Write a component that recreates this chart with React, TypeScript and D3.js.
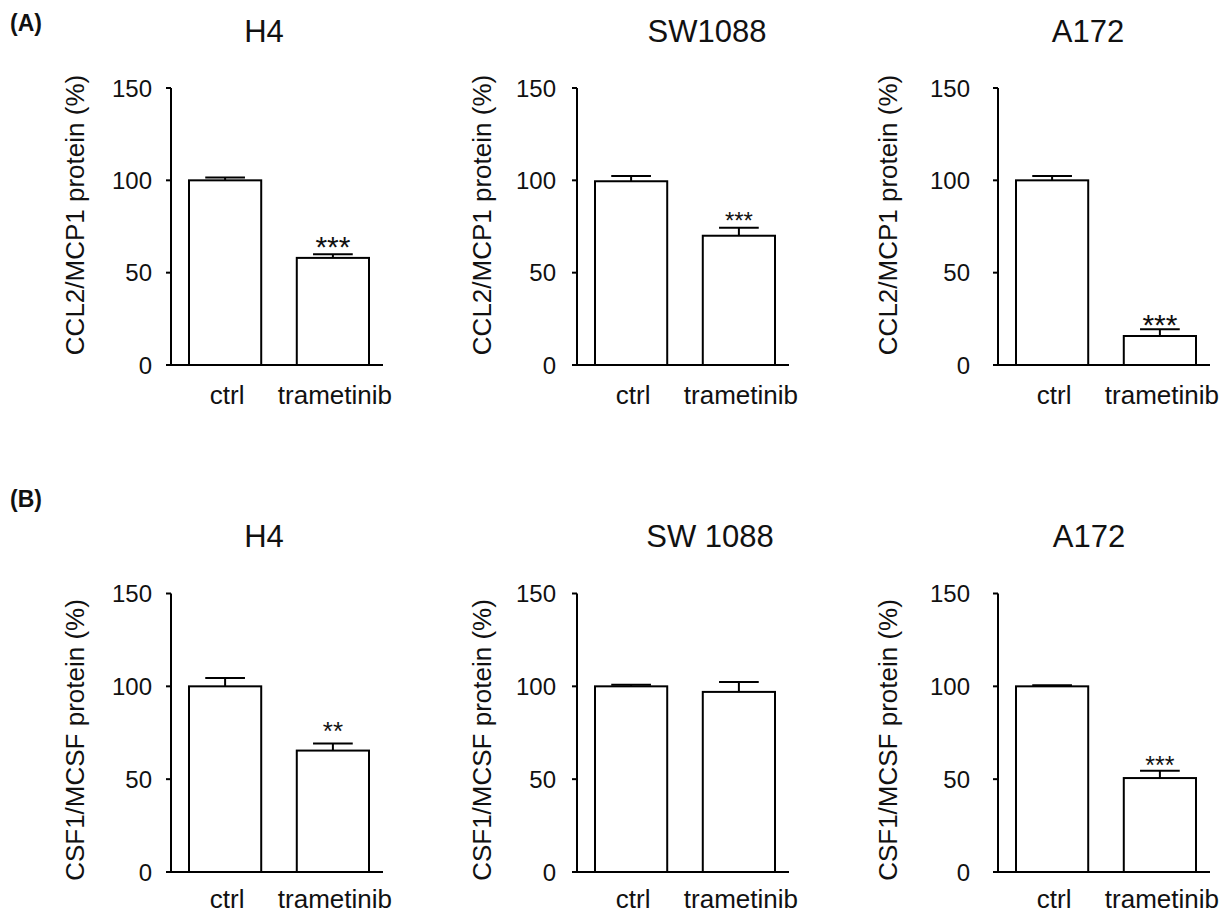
import React from "react";
import * as d3 from "d3";

// ---------- data ----------
const groups = ["ctrl", "trametinib"];
const yTicks = [0, 50, 100, 150];

const rowALabel = "(A)";
const rowBLabel = "(B)";
const rowAAxisTitle = "CCL2/MCP1 protein (%)";
const rowBAxisTitle = "CSF1/MCSF protein (%)";

const rowATitles = ["H4", "SW1088", "A172"];
const rowBTitles = ["H4", "SW 1088", "A172"];

// CCL2/MCP1 means and SEM (ctrl, trametinib)
const ccl2Means = [
  [100, 58],
  [99.5, 70],
  [100, 15.7],
];
const ccl2Errors = [
  [1.6, 2],
  [2.8, 4.3],
  [2.4, 3.6],
];
const ccl2Sig = [
  ["", "***"],
  ["", "***"],
  ["", "***"],
];

// CSF1/MCSF means and SEM (ctrl, trametinib)
const csf1Means = [
  [100, 65.4],
  [100, 97],
  [100, 50.6],
];
const csf1Errors = [
  [4.5, 3.8],
  [0.8, 5.3],
  [0.6, 4],
];
const csf1Sig = [
  ["", "**"],
  ["", ""],
  ["", "***"],
];

// ---------- layout ----------
const FONT = "'Liberation Sans', Arial, Helvetica, sans-serif";
const colAxisX = [171, 577, 998];
const colTickGap = [19, 21, 28];
const colYLabelX = [84, 491, 897];
const colTitleX = [[264, 707, 1088], [264, 710, 1089]];
const sigStyle = [
  [{ size: 30, gap: 3 }, { size: 24, gap: 1 }, { size: 30, gap: 6 }],
  [{ size: 26, gap: -4 }, { size: 24, gap: 2 }, { size: 25, gap: 3 }],
];

const rows = [
  {
    label: rowALabel, labelY: 31, titles: rowATitles, titleY: 42,
    axisTitle: rowAAxisTitle, axisTitleY: 215,
    y0: 365, y150: 88, catGap: 39, means: ccl2Means, errs: ccl2Errors, sig: ccl2Sig,
  },
  {
    label: rowBLabel, labelY: 507, titles: rowBTitles, titleY: 547,
    axisTitle: rowBAxisTitle, axisTitleY: 740,
    y0: 872, y150: 593.5, catGap: 36, means: csf1Means, errs: csf1Errors, sig: csf1Sig,
  },
];

function Panel({ row, ri, ci }: { row: any; ri: number; ci: number }) {
  const ax = colAxisX[ci];
  const y = d3.scaleLinear().domain([0, 150]).range([row.y0, row.y150]);
  const x = d3
    .scaleBand<string>()
    .domain(groups)
    .range([ax + 18, ax + 198])
    .paddingInner(0.33)
    .paddingOuter(0);
  const xEnd = ax + 212;
  const bw = x.bandwidth();
  const capW = bw * 0.55;
  const sw = 2;
  const ss = sigStyle[ri][ci];
  return (
    <g>
      <text
        x={colTitleX[ri][ci]}
        y={row.titleY}
        textAnchor="middle"
        fontSize={31}
        fontFamily={FONT}
        fill="#111"
      >
        {row.titles[ci]}
      </text>
      <text
        transform={`translate(${colYLabelX[ci]},${row.axisTitleY}) rotate(-90)`}
        textAnchor="middle"
        fontSize={26}
        fontFamily={FONT}
        fill="#111"
      >
        {row.axisTitle}
      </text>
      {/* y axis */}
      <line x1={ax} x2={ax} y1={y(0)} y2={y(150)} stroke="#000" strokeWidth={sw} />
      {yTicks.map((t) => (
        <g key={t}>
          <line x1={ax - 5} x2={ax} y1={y(t)} y2={y(t)} stroke="#000" strokeWidth={sw} />
          <text
            x={ax - colTickGap[ci]}
            y={y(t)}
            dy="0.36em"
            textAnchor="end"
            fontSize={24}
            fontFamily={FONT}
            fill="#111"
          >
            {t}
          </text>
        </g>
      ))}
      {/* bars */}
      {groups.map((g, gi) => {
        const v = row.means[ci][gi];
        const e = row.errs[ci][gi];
        const bx = x(g)!;
        const cx = bx + bw / 2;
        const s = row.sig[ci][gi];
        return (
          <g key={g}>
            <line x1={cx} x2={cx} y1={y(v)} y2={y(v + e)} stroke="#000" strokeWidth={sw} />
            <line x1={cx - capW / 2} x2={cx + capW / 2} y1={y(v + e)} y2={y(v + e)} stroke="#000" strokeWidth={sw} />
            <rect x={bx} y={y(v)} width={bw} height={y(0) - y(v)} fill="#fff" stroke="#000" strokeWidth={sw} />
            {s && (
              <text
                x={cx}
                y={y(v + e) + ss.gap}
                textAnchor="middle"
                fontSize={ss.size}
                fontFamily={FONT}
                fill="#111"
              >
                {s}
              </text>
            )}
            <text
              x={cx + 2}
              y={row.y0 + row.catGap}
              textAnchor="middle"
              fontSize={26}
              fontFamily={FONT}
              fill="#111"
            >
              {g}
            </text>
          </g>
        );
      })}
      {/* x axis */}
      <line x1={ax - 5} x2={xEnd} y1={y(0)} y2={y(0)} stroke="#000" strokeWidth={sw} />
    </g>
  );
}

export default function App() {
  return (
    <svg
      width={1222}
      height={914}
      style={{ position: "absolute", left: 0, top: 0, background: "#fff" }}
    >
      <rect width={1222} height={914} fill="#fff" />
      {rows.map((row, ri) => (
        <g key={ri}>
          <text x={10} y={row.labelY} fontSize={23} fontWeight="bold" fontFamily={FONT} fill="#111">
            {row.label}
          </text>
          {[0, 1, 2].map((ci) => (
            <Panel key={ci} row={row} ri={ri} ci={ci} />
          ))}
        </g>
      ))}
    </svg>
  );
}
